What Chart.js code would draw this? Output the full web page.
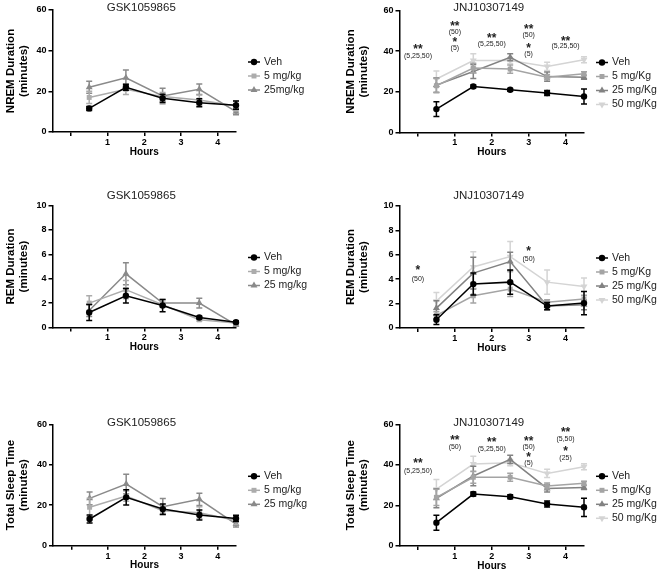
<!DOCTYPE html>
<html>
<head>
<meta charset="utf-8">
<script src="https://cdn.jsdelivr.net/npm/chart.js@4.4.1/dist/chart.umd.min.js"></script>
<style>
  html, body { margin: 0; padding: 0; background: #fff; }
  #fig { position: relative; width: 662px; height: 574px; overflow: hidden; }
  #fig canvas { position: absolute; }
</style>
</head>
<body>
<div id="fig">
  <canvas id="nremGsk" width="330" height="180" style="left:0;top:0"></canvas>
  <canvas id="nremJnj" width="332" height="180" style="left:330px;top:0"></canvas>
  <canvas id="remGsk" width="330" height="180" style="left:0;top:185px"></canvas>
  <canvas id="remJnj" width="332" height="180" style="left:330px;top:185px"></canvas>
  <canvas id="tstGsk" width="330" height="184" style="left:0;top:390px"></canvas>
  <canvas id="tstJnj" width="332" height="184" style="left:330px;top:390px"></canvas>
</div>
<script>
// time bins (hours) and axis ticks
const hours = [0.5, 1.5, 2.5, 3.5, 4.5];
const xTicks = [0, 1, 2, 3, 4];

const gskLabelsNrem = ['Veh', '5 mg/kg', '25mg/kg'];
const gskLabels = ['Veh', '5 mg/kg', '25 mg/kg'];
const jnjLabels = ['Veh', '5 mg/Kg', '25 mg/Kg', '50 mg/Kg'];

// NREM - GSK1059865
const nremGskVeh = [11.6, 22, 16.6, 14.4, 13.2];
const nremGskVehErr = [1, 1.5, 2, 2, 2];
const nremGsk5 = [17, 21, 17.4, 15.7, 12.8];
const nremGsk5Err = [3, 2.5, 2, 2.5, 2.5];
const nremGsk25 = [22, 26.7, 17.7, 21, 10];
const nremGsk25Err = [3, 3.8, 3.8, 2.6, 1.5];

// NREM - JNJ10307149
const nremJnjVeh = [11.5, 22.6, 21, 19.4, 17.7];
const nremJnjVehErr = [3.6, 0.7, 0.7, 1.2, 3.7];
const nremJnj5 = [23, 31.7, 31.2, 27.2, 28.9];
const nremJnj5Err = [3.5, 2.3, 2, 1.3, 1];
const nremJnj25 = [23.3, 30, 37, 27.5, 27.2];
const nremJnj25Err = [3.5, 3.5, 1.7, 2.3, 1];
const nremJnj50 = [26.3, 35.4, 35.4, 32.5, 35.8];
const nremJnj50Err = [4, 3.3, 1.5, 2, 1.5];

// REM - GSK1059865
const remGskVeh = [1.23, 2.6, 1.8, 0.82, 0.44];
const remGskVehErr = [0.65, 0.6, 0.5, 0.1, 0.1];
const remGsk5 = [2.0, 3.1, 1.86, 0.63, 0.36];
const remGsk5Err = [0.6, 0.75, 0.2, 0.1, 0.1];
const remGsk25 = [1.4, 4.4, 2.0, 2.0, 0.22];
const remGsk25Err = [0.5, 0.9, 0.3, 0.4, 0.1];

// REM - JNJ10307149
const remJnjVeh = [0.68, 3.6, 3.76, 1.8, 2.04];
const remJnjVehErr = [0.4, 0.9, 1.0, 0.3, 0.95];
const remJnj5 = [1.03, 2.64, 3.19, 2.12, 2.37];
const remJnj5Err = [0.3, 0.6, 0.6, 0.2, 0.3];
const remJnj25 = [1.63, 4.5, 5.45, 1.8, 1.9];
const remJnj25Err = [0.6, 1.3, 0.75, 0.3, 0.4];
const remJnj50 = [2.2, 5.0, 5.85, 3.76, 3.4];
const remJnj50Err = [0.7, 1.25, 1.25, 1.0, 0.7];

// Total sleep time - GSK1059865
const tstGskVeh = [13.2, 23.9, 18.1, 15.2, 13.5];
const tstGskVehErr = [2, 3.8, 2.5, 2.5, 1.5];
const tstGsk5 = [19, 24.5, 17.3, 16.3, 12.5];
const tstGsk5Err = [4.5, 2.5, 2, 3, 2];
const tstGsk25 = [23.4, 30.5, 19.3, 22.9, 10.7];
const tstGsk25Err = [3.2, 4.8, 4, 3, 1.5];

// Total sleep time - JNJ10307149
const tstJnjVeh = [11.5, 25.6, 24.3, 20.7, 19.1];
const tstJnjVehErr = [3.7, 1, 1, 1.5, 4.5];
const tstJnj5 = [24, 33.9, 33.9, 29.6, 30.9];
const tstJnj5Err = [4, 3, 2, 1.5, 1];
const tstJnj25 = [23.5, 34.5, 42.7, 28.4, 28.8];
const tstJnj25Err = [4.7, 4.8, 2, 1.8, 1];
const tstJnj50 = [28, 40.4, 41.1, 35.8, 39.1];
const tstJnj50Err = [4.8, 3.8, 1.5, 2, 1.5];

// significance marks: [hour tick, y value, text]
const nremJnjNotes = [
  [0, 41.8, '**'], [0, 37.4, '(5,25,50)'],
  [1, 53.5, '**'], [1, 49.2, '(50)'], [1, 45.6, '*'], [1, 41.5, '(5)'],
  [2, 47.2, '**'], [2, 43.5, '(5,25,50)'],
  [3, 51.8, '**'], [3, 48, '(50)'], [3, 42.6, '*'], [3, 38.7, '(5)'],
  [4, 45.9, '**'], [4, 42.6, '(5,25,50)']
];
const remJnjNotes = [
  [0, 4.9, '*'], [0, 4.0, '(50)'],
  [3, 6.46, '*'], [3, 5.67, '(50)']
];
const tstJnjNotes = [
  [0, 41.6, '**'], [0, 37, '(5,25,50)'],
  [1, 53.1, '**'], [1, 49, '(50)'],
  [2, 52.3, '**'], [2, 47.7, '(5,25,50)'],
  [3, 52.6, '**'], [3, 49, '(50)'], [3, 44.9, '*'], [3, 41.1, '(5)'],
  [4, 57.2, '**'], [4, 52.9, '(5,50)'], [4, 47.7, '*'], [4, 43.5, '(25)']
];

const FONT = "'Liberation Sans', Arial, sans-serif";
Chart.defaults.font.family = FONT;

const gskColors = ['#000000', '#acacac', '#8a8a8a'];
const jnjColors = ['#000000', '#a4a4a4', '#828282', '#d4d4d4'];
const styles = [
  { style: 'circle', rot: 0, r: 3.2 },
  { style: 'rect', rot: 0, r: 3.5 },
  { style: 'triangle', rot: 0, r: 4 },
  { style: 'triangle', rot: 180, r: 4 }
];

function buildSeries(labels, colors, values, errors) {
  return labels.map((label, i) => ({
    label: label, color: colors[i], values: values[i], errors: errors[i],
    style: styles[i].style, rot: styles[i].rot, r: styles[i].r
  }));
}

function drawMarker(ctx, m, x, y) {
  ctx.beginPath();
  if (m.style === 'circle') {
    ctx.arc(x, y, m.r, 0, Math.PI * 2);
  } else if (m.style === 'rect') {
    const s = m.r * Math.SQRT1_2;
    ctx.rect(x - s, y - s, 2 * s, 2 * s);
  } else {
    let a = m.rot * Math.PI / 180;
    for (let k = 0; k < 3; k++) {
      const px = x + Math.sin(a) * m.r, py = y - Math.cos(a) * m.r;
      if (k === 0) ctx.moveTo(px, py); else ctx.lineTo(px, py);
      a += Math.PI * 2 / 3;
    }
    ctx.closePath();
  }
  ctx.fill();
}

const errorBars = {
  id: 'errorBars',
  beforeDatasetDraw(chart, args) {
    const ds = chart.data.datasets[args.index];
    const y = chart.scales.y;
    const ctx = chart.ctx;
    ctx.save();
    ctx.strokeStyle = ds.borderColor;
    ctx.lineWidth = 1.5;
    args.meta.data.forEach((pt, i) => {
      const v = ds.data[i].y, e = ds.errors[i];
      const top = y.getPixelForValue(v + e);
      const bot = y.getPixelForValue(Math.max(v - e, 0));
      ctx.beginPath();
      ctx.moveTo(pt.x, top); ctx.lineTo(pt.x, bot);
      ctx.moveTo(pt.x - 3, top); ctx.lineTo(pt.x + 3, top);
      ctx.moveTo(pt.x - 3, bot); ctx.lineTo(pt.x + 3, bot);
      ctx.stroke();
    });
    ctx.restore();
  }
};

function panelText(p) {
  return {
    id: 'panelText',
    afterDraw(chart) {
      const ctx = chart.ctx;
      const area = chart.chartArea;
      const xs = chart.scales.x, ys = chart.scales.y;
      ctx.save();
      // title
      ctx.fillStyle = '#222';
      ctx.font = '11.5px ' + FONT;
      ctx.textAlign = 'center';
      ctx.textBaseline = 'middle';
      ctx.fillText(p.title, (area.left + area.right) / 2 - 3, area.top + p.titleDy);
      // legend
      p.series.forEach((s, i) => {
        const ly = area.top + 52 + i * 14;
        ctx.strokeStyle = s.color;
        ctx.fillStyle = s.color;
        ctx.lineWidth = 1.5;
        ctx.beginPath();
        ctx.moveTo(area.right + 12, ly);
        ctx.lineTo(area.right + 24, ly);
        ctx.stroke();
        drawMarker(ctx, s, area.right + 18, ly);
        ctx.fillStyle = '#222';
        ctx.font = '10.5px ' + FONT;
        ctx.textAlign = 'left';
        ctx.fillText(s.label, area.right + 28, ly);
      });
      // significance marks
      ctx.textAlign = 'center';
      ctx.fillStyle = '#222';
      (p.notes || []).forEach(n => {
        const star = n[2].charAt(0) === '*';
        ctx.font = (star ? 'bold 12px ' : '7px ') + FONT;
        ctx.fillText(n[2], xs.getPixelForValue(n[0]), ys.getPixelForValue(n[1]) + (star ? 2.5 : 0));
      });
      ctx.restore();
    }
  };
}

function makePanel(p) {
  const axisGrid = { display: true, drawOnChartArea: false, drawTicks: true, tickLength: 4, color: '#000', lineWidth: 1.5 };
  const axisBorder = { display: true, color: '#000', width: 1.5 };
  new Chart(document.getElementById(p.id), {
    type: 'line',
    data: {
      datasets: p.series.map(s => ({
        label: s.label,
        data: hours.map((h, i) => ({ x: h, y: s.values[i] })),
        errors: s.errors,
        borderColor: s.color,
        backgroundColor: s.color,
        pointBackgroundColor: s.color,
        pointBorderColor: s.color,
        pointBorderWidth: 0,
        pointStyle: s.style,
        rotation: s.rot,
        pointRadius: s.r,
        borderWidth: 1.5,
        tension: 0,
        clip: false
      }))
    },
    options: {
      responsive: false,
      animation: false,
      devicePixelRatio: 1,
      events: [],
      layout: {
        padding: {
          left: 0,
          top: p.T - p.y0,
          right: p.w - (p.R - p.x0),
          bottom: p.h - 28 - (p.B - p.y0)
        }
      },
      plugins: { legend: { display: false }, tooltip: { enabled: false } },
      scales: {
        x: {
          type: 'linear', min: -0.5, max: 4.5,
          afterBuildTicks: s => { s.ticks = xTicks.map(v => ({ value: v })); },
          ticks: {
            autoSkip: false, maxRotation: 0, color: '#000', padding: 1,
            font: { size: 9, weight: 'bold' },
            callback: v => (v === 0 ? '' : v)
          },
          grid: axisGrid,
          border: axisBorder,
          title: {
            display: true, text: 'Hours', color: '#000',
            font: { size: 10, weight: 'bold', lineHeight: 1.2 },
            padding: { top: 0, bottom: 2 }
          },
          afterFit: s => { s.height = 28; }
        },
        y: {
          min: 0, max: p.yMax,
          ticks: { stepSize: p.yStep, color: '#000', padding: 2, font: { size: 9, weight: 'bold' } },
          grid: axisGrid,
          border: axisBorder,
          title: {
            display: true, text: [p.yTitle, '(minutes)'], color: '#000',
            font: { size: 11.5, weight: 'bold', lineHeight: 1.2 },
            padding: { top: p.yTitlePad, bottom: 0 }
          },
          afterFit: s => { s.width = p.L - p.x0; }
        }
      }
    },
    plugins: [errorBars, panelText(p)]
  });
}

makePanel({
  id: 'nremGsk', x0: 0, y0: 0, w: 330, h: 180, L: 52.5, R: 236, T: 10, B: 132,
  yMax: 60, yStep: 20, yTitle: 'NREM Duration', yTitlePad: 3.5, title: 'GSK1059865', titleDy: -2,
  series: buildSeries(gskLabelsNrem, gskColors,
    [nremGskVeh, nremGsk5, nremGsk25], [nremGskVehErr, nremGsk5Err, nremGsk25Err])
});
makePanel({
  id: 'nremJnj', x0: 330, y0: 0, w: 332, h: 180, L: 399.5, R: 584, T: 10.5, B: 132.5,
  yMax: 60, yStep: 20, yTitle: 'NREM Duration', yTitlePad: 13.5, title: 'JNJ10307149', titleDy: -2.5,
  notes: nremJnjNotes,
  series: buildSeries(jnjLabels, jnjColors,
    [nremJnjVeh, nremJnj5, nremJnj25, nremJnj50], [nremJnjVehErr, nremJnj5Err, nremJnj25Err, nremJnj50Err])
});
makePanel({
  id: 'remGsk', x0: 0, y0: 185, w: 330, h: 180, L: 52.5, R: 236, T: 205.5, B: 327.5,
  yMax: 10, yStep: 2, yTitle: 'REM Duration', yTitlePad: 3.5, title: 'GSK1059865', titleDy: -10,
  series: buildSeries(gskLabels, gskColors,
    [remGskVeh, remGsk5, remGsk25], [remGskVehErr, remGsk5Err, remGsk25Err])
});
makePanel({
  id: 'remJnj', x0: 330, y0: 185, w: 332, h: 180, L: 399.5, R: 584, T: 206, B: 328,
  yMax: 10, yStep: 2, yTitle: 'REM Duration', yTitlePad: 13.5, title: 'JNJ10307149', titleDy: -10.5,
  notes: remJnjNotes,
  series: buildSeries(jnjLabels, jnjColors,
    [remJnjVeh, remJnj5, remJnj25, remJnj50], [remJnjVehErr, remJnj5Err, remJnj25Err, remJnj50Err])
});
makePanel({
  id: 'tstGsk', x0: 0, y0: 390, w: 330, h: 184, L: 53, R: 236, T: 424.3, B: 545.7,
  yMax: 60, yStep: 20, yTitle: 'Total Sleep Time', yTitlePad: 3.5, title: 'GSK1059865', titleDy: -1,
  series: buildSeries(gskLabels, gskColors,
    [tstGskVeh, tstGsk5, tstGsk25], [tstGskVehErr, tstGsk5Err, tstGsk25Err])
});
makePanel({
  id: 'tstJnj', x0: 330, y0: 390, w: 332, h: 184, L: 399.5, R: 584, T: 424.3, B: 546,
  yMax: 60, yStep: 20, yTitle: 'Total Sleep Time', yTitlePad: 13.5, title: 'JNJ10307149', titleDy: -1,
  notes: tstJnjNotes,
  series: buildSeries(jnjLabels, jnjColors,
    [tstJnjVeh, tstJnj5, tstJnj25, tstJnj50], [tstJnjVehErr, tstJnj5Err, tstJnj25Err, tstJnj50Err])
});
</script>
</body>
</html>
